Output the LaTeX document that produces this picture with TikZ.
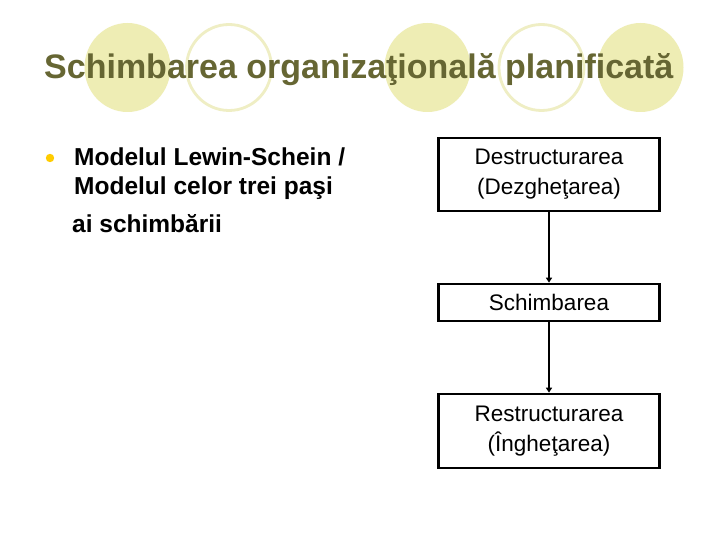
\documentclass[tikz,border=0pt]{standalone}
\usepackage{fontspec}
\setmainfont{Liberation Sans}
\usepackage{xcolor}
\usepackage{tikz}
\usetikzlibrary{arrows.meta}
\definecolor{olive}{HTML}{666633}
\definecolor{pale}{HTML}{EEEDB4}
\definecolor{ring}{HTML}{EFEEC4}
\definecolor{dot}{HTML}{FFCC00}
\tikzset{
  disc/.style={fill=pale},
  hoop/.style={draw=ring, line width=2.8pt},
  line/.style={anchor=base west, inner sep=0pt, font=\fontsize{24.5}{29}\bfseries\selectfont},
  stage/.style={draw=black, line width=2.6pt, minimum width=221pt, align=center,
    inner sep=0pt, font=\fontsize{22.5}{30}\selectfont},
  flow/.style={draw=black, line width=2.6pt, -{Triangle[length=5pt,width=6pt]}},
  every node/.style={text=black}
}

\begin{document}
\begin{tikzpicture}[x=1pt,y=-1pt]
  \useasboundingbox[fill=white] (0,0) rectangle (720,540);

  % circles behind the title
  \fill[disc] (127.5,67.5) ellipse (43 and 44.5);
  \draw[hoop] (229,67.5) ellipse (42.5 and 43);
  \fill[disc] (427.5,67.5) ellipse (43 and 44.5);
  \draw[hoop] (541.5,67.5) ellipse (42.5 and 43);
  \fill[disc] (640.5,67.5) ellipse (43 and 44.5);

  \node[anchor=base west, inner sep=0pt, text=olive, font=\fontsize{34}{40}\bfseries\selectfont]
    (title) at (44,79) {Schimbarea organizaţională planificată};

  % bullet point
  \fill[dot] (50,158) circle (4.2);
  \node[line] (model1) at (74,166) {Modelul Lewin-Schein /};
  \node[line] (model2) at (74,195) {Modelul celor trei paşi};
  \node[line] (model3) at (72,233) {ai schimbării};

  \node[stage, minimum height=73pt] (unfreeze) at (549,174.5) {Destructurarea\\(Dezgheţarea)};
  \node[stage, minimum height=37pt] (change) at (549,302.5) {Schimbarea};
  \node[stage, minimum height=74pt] (refreeze) at (549,431) {Restructurarea\\(Îngheţarea)};

  \draw[flow] (unfreeze.south) -- (change.north);
  \draw[flow, line width=1.6pt] (change.south) -- (refreeze.north);
\end{tikzpicture}
\end{document}
